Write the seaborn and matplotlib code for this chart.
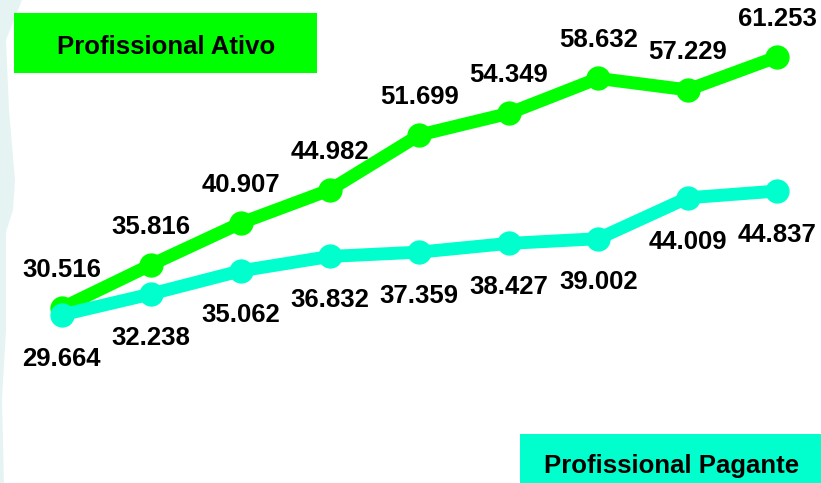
import matplotlib
matplotlib.use("Agg")
import matplotlib.pyplot as plt
from matplotlib.patches import Rectangle, Polygon
import numpy as np
import pandas as pd
import seaborn as sns

# Series values (thousands, pt-BR decimal separator in labels)
periods = list(range(9))
ativo = [30.516, 35.816, 40.907, 44.982, 51.699, 54.349, 58.632, 57.229, 61.253]
pagante = [29.664, 32.238, 35.062, 36.832, 37.359, 38.427, 39.002, 44.009, 44.837]
series_names = ["Profissional Ativo", "Profissional Pagante"]

GREEN = "#00FF00"
CYAN = "#00FFCC"
TEXT = "#000000"

sns.set_theme(style="white")
plt.rcParams["font.family"] = ["Liberation Sans", "DejaVu Sans"]

W, H = 821, 483
fig = plt.figure(figsize=(W / 100, H / 100), dpi=100)
fig.patch.set_facecolor("white")

# faint decorative band along the left edge
band = [(0, 0), (22, 0), (6, 40), (9, 110), (15, 180), (13, 210), (6, 232),
        (6, 330), (2, 400), (4, 483), (0, 483)]
fig.patches.append(Polygon([(x / W, 1 - y / H) for x, y in band], closed=True,
                           transform=fig.transFigure, facecolor="#E5F4F3",
                           edgecolor="none", zorder=0))

ax = fig.add_axes([0, 0, 1, 1])
ax.set_facecolor("none")

df = pd.DataFrame({"periodo": periods, "ativo": ativo, "pagante": pagante})

line_kw = dict(marker="o", markersize=17.5, markeredgewidth=0, linewidth=9.3,
               solid_joinstyle="round", solid_capstyle="round")
sns.lineplot(data=df, x="periodo", y="ativo", color=GREEN, ax=ax, zorder=2, **line_kw)
sns.lineplot(data=df, x="periodo", y="pagante", color=CYAN, ax=ax, zorder=3, **line_kw)

label_kw = dict(textcoords="offset points", ha="center", va="center",
                fontsize=18.5, fontweight="bold", color=TEXT, zorder=5)

def fmt(v):
    return f"{v:.3f}"

for x, v in zip(periods, ativo):
    ax.annotate(fmt(v), (x, v), xytext=(0, 27.5), **label_kw)
for x, v in zip(periods, pagante):
    ax.annotate(fmt(v), (x, v), xytext=(0, -31.5), **label_kw)

ax.set_xlim(-0.690, 8.492)
ax.set_ylim(9.09, 68.23)
ax.set_axis_off()

# series tags
fig.patches.append(Rectangle((14 / W, 1 - 73 / H), 303 / W, 60 / H,
                             transform=fig.transFigure, facecolor=GREEN,
                             edgecolor="none", zorder=1))
fig.text(165.8 / W, 1 - 54 / H, series_names[0], ha="center", va="baseline",
         fontsize=18.5, fontweight="bold", color=TEXT)
fig.patches.append(Rectangle((520 / W, 0), 301 / W, 49 / H,
                             transform=fig.transFigure, facecolor=CYAN,
                             edgecolor="none", zorder=1))
fig.text(671.7 / W, 1 - 473 / H, series_names[1], ha="center", va="baseline",
         fontsize=18.5, fontweight="bold", color=TEXT)

fig.savefig("out.png", dpi=100)
